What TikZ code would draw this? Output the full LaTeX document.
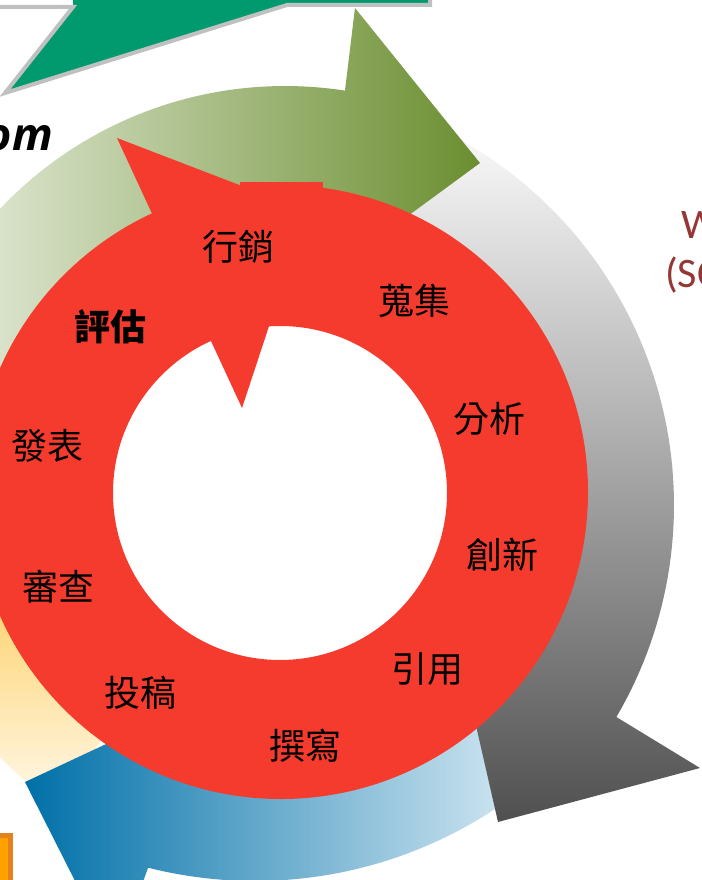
\documentclass[tikz,border=0pt]{standalone}
\usepackage{fontspec}
\newfontfamily\cjk{Noto Sans CJK TC}
\newfontfamily\omfont{Open Sans}
\newfontfamily\calfont{Carlito}
\definecolor{redc}{RGB}{245,59,46}
\definecolor{tealc}{RGB}{0,154,110}
\definecolor{outl}{RGB}{192,192,192}
\definecolor{gL}{RGB}{240,244,234}
\definecolor{gR}{RGB}{107,142,48}
\definecolor{grT}{RGB}{250,250,250}
\definecolor{grM}{RGB}{192,192,192}
\definecolor{grB}{RGB}{80,80,80}
\definecolor{bL}{RGB}{0,112,168}
\definecolor{bR}{RGB}{240,248,252}
\definecolor{yT}{RGB}{253,190,42}
\definecolor{yB}{RGB}{255,248,234}
\definecolor{dred}{RGB}{149,55,53}
\definecolor{orF}{RGB}{255,162,0}
\definecolor{orD}{RGB}{230,130,30}
\begin{document}
\begin{tikzpicture}[x=1pt,y=-1pt,
  lbl/.style={font=\cjk\fontsize{36}{40}\selectfont, text=black, inner sep=0pt}]
\useasboundingbox (0,0) rectangle (701,880);
\fill[white] (0,0) rectangle (701,880);

% top teal arrow
\fill[tealc] (73,-10) -- (73,7) -- (5,93) -- (287,5) -- (430,5) -- (430,-10) -- cycle;
\draw[outl, line width=4pt, line join=miter] (-10,7) -- (73,7) -- (5,93) -- (287,5) -- (430,5) -- (430,-10);

% orange box bottom-left
\draw[orD, fill=orF, line width=4.5pt] (-20,835.5) rectangle (10.5,900);

% yellow band (left)
\shade[top color=yT, bottom color=yB]
  plot[domain=125:180, samples=40] ({285+399*cos(\x)},{478+399*sin(\x)})
  -- plot[domain=180:125, samples=30] ({285+250*cos(\x)},{478+250*sin(\x)}) -- cycle;

% blue band (bottom)
\shade[left color=bL, right color=bR]
  plot[domain=40:104.2, samples=60] ({255+436*cos(\x)},{445+436*sin(\x)})
  -- (115,960) -- (25,782) -- (200,700)
  -- plot[domain=104.2:40, samples=40] ({255+250*cos(\x)},{445+250*sin(\x)}) -- cycle;

% gray band (right)
\shade[top color=grT, middle color=grM, bottom color=grB]
  plot[domain=-64:30.4, samples=70] ({255+419*cos(\x)},{505+419*sin(\x)})
  -- (700,768) -- (498,822) -- (451,616)
  -- plot[domain=30.4:-64, samples=50] ({255+250*cos(\x)},{505+250*sin(\x)}) -- cycle;

% green band (top)
\shade[left color=gL, right color=gR]
  plot[domain=190:278.8, samples=70] ({285+392*cos(\x)},{478+392*sin(\x)})
  -- (355,8) -- (480,163) -- (322,279)
  -- plot[domain=278.8:190, samples=50] ({285+250*cos(\x)},{478+250*sin(\x)}) -- cycle;

% red circular arrow
\fill[redc, even odd rule] (281,492) circle[radius=307] (280,493) circle[radius=167];
\fill[redc] (117,138) -- (242,408) -- (307,211) -- cycle;
\fill[redc] (240,182) rectangle (323,215);

% labels
\node[lbl] (t1) at (238,247) {行銷};
\node[lbl] (t2) at (414,301) {蒐集};
\node[lbl] (t3) at (489,419) {分析};
\node[lbl] (t4) at (502,555) {創新};
\node[lbl] (t5) at (427,669) {引用};
\node[lbl] (t6) at (305,746) {撰寫};
\node[lbl] (t7) at (140,693) {投稿};
\node[lbl] (t8) at (58,587) {審查};
\node[lbl] (t9) at (47,446) {發表};
\node[lbl, font=\cjk\bfseries\fontsize{36}{40}\selectfont] (t10) at (110,327) {評估};

% partial texts
\node[anchor=base east, inner sep=0pt, font=\omfont\bfseries\itshape\fontsize{45}{50}\selectfont] (om) at (53,150) {om};
\node[anchor=base west, inner sep=0pt, text=dred, font=\calfont\fontsize{42}{48}\selectfont] (w1) at (681,238) {W};
\node[anchor=base west, inner sep=0pt, text=dred, font=\calfont\fontsize{42}{48}\selectfont] (w2) at (665,287) {(SC};
\end{tikzpicture}
\end{document}
